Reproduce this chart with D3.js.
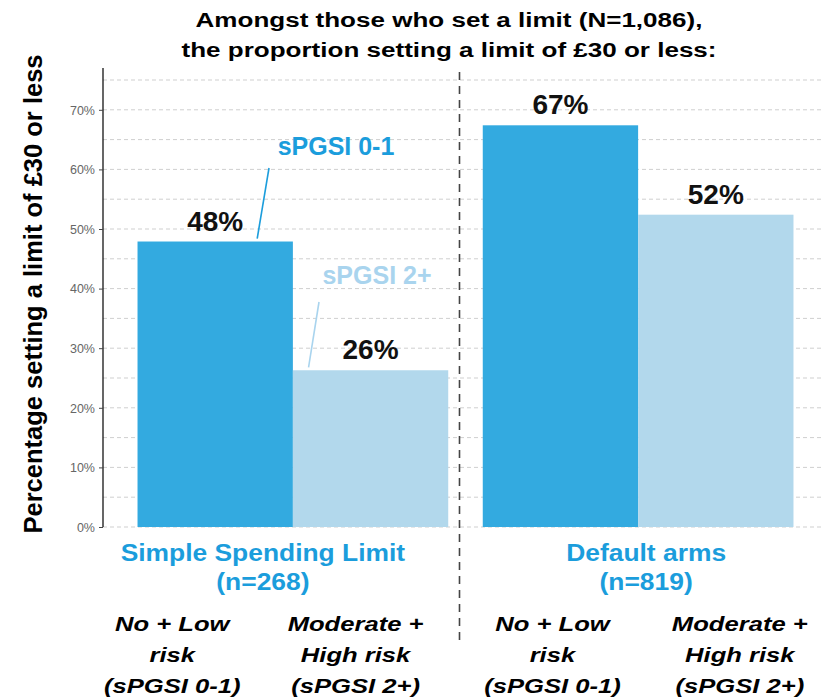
<!DOCTYPE html>
<html>
<head>
<meta charset="utf-8">
<script src="https://cdn.jsdelivr.net/npm/d3@7"></script>
<style>
  body { margin: 0; background: #fff; }
  text { font-family: "Liberation Sans", Arial, Helvetica, sans-serif; }
</style>
</head>
<body>
<div id="chart"></div>
<script>
// data
const groups = ['Simple Spending Limit', 'Default arms'];
const groupN = ['(n=268)', '(n=819)'];
const series = ['sPGSI 0-1', 'sPGSI 2+'];
const values = [[47.9, 26.3], [67.4, 52.4]];
const riskLabels = [['No + Low', 'risk', '(sPGSI 0-1)'], ['Moderate +', 'High risk', '(sPGSI 2+)']];
const yTicks = [0, 10, 20, 30, 40, 50, 60, 70];
const gridTicks = [0, 5, 10, 15, 20, 25, 30, 35, 40, 45, 50, 55, 60, 65, 70, 75];
const title = ['Amongst those who set a limit (N=1,086),', 'the proportion setting a limit of £30 or less:'];

const width = 823;
const height = 700;
const margin = {top: 80, right: 0, bottom: 173, left: 103};
const innerHeight = height - margin.top - margin.bottom;
const innerWidth = 828 - margin.left;

const darkBlue = '#33aae0';
const lightBlue = '#b2d8ec';
const textBlue = '#1b9ddc';
const textLight = '#a9d4ee';

const svg = d3.select('#chart').append('svg')
    .attr('width', width)
    .attr('height', height);

const g = svg.append('g')
    .attr('transform', `translate(${margin.left},${margin.top})`);

const yScale = d3.scaleLinear()
    .domain([0, 75])
    .range([innerHeight, 0]);

const x0 = d3.scaleBand()
    .domain(groups)
    .range([0, innerWidth])
    .paddingInner(0.1)
    .paddingOuter(0.1);

const x1 = d3.scaleBand()
    .domain(series)
    .range([0, x0.bandwidth()]);

const color = d3.scaleOrdinal().domain(series).range([darkBlue, lightBlue]);

// text that is a bit wider than the font (the source picture was stretched)
function wideText(parent, x, y, sx, size) {
    return parent.append('text')
        .attr('transform', `translate(${x},${y}) scale(${sx},1)`)
        .attr('text-anchor', 'middle')
        .style('font-size', size + 'px')
        .style('font-weight', 'bold');
}

// gridlines
g.selectAll('.grid')
    .data(gridTicks)
    .join('line')
    .attr('x1', 0)
    .attr('x2', width - margin.left)
    .attr('y1', d => yScale(d))
    .attr('y2', d => yScale(d))
    .attr('stroke', '#cfcfcf')
    .attr('stroke-width', 1)
    .attr('stroke-dasharray', '4,3');

// bars
const bars = [];
groups.forEach((grp, i) => {
    series.forEach((s, j) => {
        bars.push({group: grp, series: s, value: values[i][j]});
    });
});

g.selectAll('.bar')
    .data(bars)
    .join('rect')
    .attr('x', d => x0(d.group) + x1(d.series))
    .attr('y', d => yScale(d.value))
    .attr('width', x1.bandwidth())
    .attr('height', d => innerHeight - yScale(d.value))
    .attr('fill', d => color(d.series));

// value labels
g.selectAll('.val')
    .data(bars)
    .join('text')
    .attr('x', d => x0(d.group) + x1(d.series) + x1.bandwidth() / 2)
    .attr('y', d => yScale(d.value) - 11)
    .attr('text-anchor', 'middle')
    .style('font-size', '28px')
    .style('font-weight', 'bold')
    .attr('fill', '#111')
    .text(d => Math.round(d.value) + '%');

// y axis
const yAxis = g.append('g')
    .call(d3.axisLeft(yScale).tickValues(yTicks).tickSize(4).tickFormat(d => d + '%'));
yAxis.select('.domain')
    .attr('d', `M0,${yScale(77)}V${innerHeight}`)
    .attr('stroke', '#000')
    .attr('stroke-width', 1.2);
yAxis.selectAll('.tick line').attr('stroke', '#444');
yAxis.selectAll('.tick text')
    .attr('x', -8)
    .attr('dy', '0.35em')
    .style('font-size', '12.5px')
    .attr('fill', '#666');

// divider between groups
const divX = (x0(groups[0]) + x0.bandwidth() + x0(groups[1])) / 2 - 6;
g.append('line')
    .attr('x1', divX)
    .attr('x2', divX)
    .attr('y1', -8)
    .attr('y2', 565)
    .attr('stroke', '#444')
    .attr('stroke-width', 1.6)
    .attr('stroke-dasharray', '8,6');

// series callouts on the first group
const callouts = [
    {s: series[0], tx: 336, ty: 155, lx: 269, ly: 168, v: values[0][0], dx: 42, color: textBlue},
    {s: series[1], tx: 377, ty: 284, lx: 319, ly: 302, v: values[0][1], dx: -62, color: textLight}
];
callouts.forEach(c => {
    svg.append('text')
        .attr('x', c.tx)
        .attr('y', c.ty)
        .attr('text-anchor', 'middle')
        .style('font-size', '25px')
        .style('font-weight', 'bold')
        .attr('fill', c.color)
        .text(c.s);
    svg.append('line')
        .attr('x1', margin.left + x0(groups[0]) + x1(c.s) + x1.bandwidth() / 2 + c.dx)
        .attr('y1', margin.top + yScale(c.v) - 3)
        .attr('x2', c.lx)
        .attr('y2', c.ly)
        .attr('stroke', c.color)
        .attr('stroke-width', 1.6);
});

// group labels
const groupShift = [-30, 8];
groups.forEach((grp, i) => {
    const cx = margin.left + x0(grp) + x0.bandwidth() / 2 + groupShift[i];
    wideText(svg, cx, 561, 1.1, 24).attr('fill', textBlue).text(grp);
    wideText(svg, cx, 590, 1.1, 24).attr('fill', textBlue).text(groupN[i]);
});

// risk labels under the bars
const riskShift = [[-43, -15], [-8, 24]];
groups.forEach((grp, i) => {
    series.forEach((s, j) => {
        const cx = margin.left + x0(grp) + x1(s) + x1.bandwidth() / 2 + riskShift[i][j];
        riskLabels[j].forEach((line, k) => {
            wideText(svg, cx, 631 + k * 31, 1.22, 21)
                .style('font-style', 'italic')
                .attr('fill', '#000')
                .text(line);
        });
    });
});

// title
title.forEach((line, i) => {
    wideText(svg, 449, 27 + i * 30, 1.24, 21).attr('fill', '#000').text(line);
});

// y axis title
svg.append('text')
    .attr('transform', 'translate(42,294) rotate(-90)')
    .attr('text-anchor', 'middle')
    .style('font-size', '25.5px')
    .style('font-weight', 'bold')
    .attr('fill', '#000')
    .text('Percentage setting a limit of £30 or less');
</script>
</body>
</html>
